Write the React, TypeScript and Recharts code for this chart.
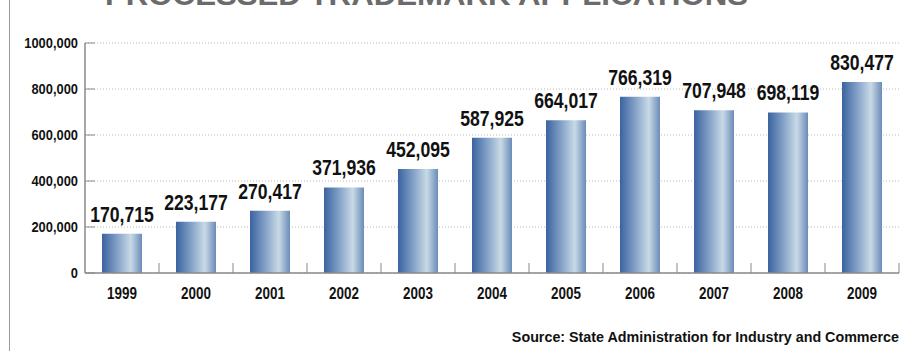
import { BarChart, Bar, XAxis, YAxis, CartesianGrid, LabelList } from "recharts";

const years = ["1999", "2000", "2001", "2002", "2003", "2004", "2005", "2006", "2007", "2008", "2009"];
const applications = [170715, 223177, 270417, 371936, 452095, 587925, 664017, 766319, 707948, 698119, 830477];
const yTicks = [0, 200000, 400000, 600000, 800000, 1000000];
const yTickLabels = ["0", "200,000", "400,000", "600,000", "800,000", "1000,000"];

const data = years.map((year, i) => ({ year, value: applications[i] }));

const W = 913;
const H = 351;
const MARGIN = { top: 43, right: 14, left: 0, bottom: 48 };
const Y_WIDTH = 85;
const BAND = (W - Y_WIDTH - MARGIN.right) / years.length;

const FONT = '"Liberation Sans", Arial, sans-serif';
const AXIS_GREY = "#8a8a8a";

const fmt = (v: number) => v.toLocaleString("en-US");

// no condensed face installed, so squeeze glyphs horizontally
function CondText({ x, y, sx, size, anchor, children }: any) {
  return (
    <text
      transform={`translate(${x},${y}) scale(${sx},1)`}
      textAnchor={anchor}
      fontFamily={FONT}
      fontSize={size}
      fontWeight={700}
      fill="#111"
    >
      {children}
    </text>
  );
}

function YTick(props: any) {
  const { x, y, payload } = props;
  const axisX = x + 7;
  const idx = yTicks.indexOf(payload.value);
  return (
    <g>
      <line x1={axisX} x2={axisX + 10} y1={y} y2={y} stroke={AXIS_GREY} strokeWidth={1} />
      <CondText x={x} y={y + 5} sx={0.86} size={15} anchor="end">
        {idx >= 0 ? yTickLabels[idx] : fmt(payload.value)}
      </CondText>
    </g>
  );
}

function XTick(props: any) {
  const { x, y, payload } = props;
  const axisY = y - 14;
  const bx = x + BAND / 2;
  return (
    <g>
      <line x1={bx} x2={bx} y1={axisY} y2={axisY - 10} stroke={AXIS_GREY} strokeWidth={1} />
      <CondText x={x} y={y + 12} sx={0.84} size={16} anchor="middle">
        {payload.value}
      </CondText>
    </g>
  );
}

function ValueLabel(props: any) {
  const { x, y, width, value } = props;
  return (
    <CondText x={x + width / 2} y={y - 12} sx={0.8} size={22} anchor="middle">
      {fmt(Number(value))}
    </CondText>
  );
}

export default function App() {
  return (
    <div style={{ position: "fixed", left: 0, top: 0, width: W, height: H, background: "#fff", overflow: "hidden" }}>
      <svg width={W} height={H} style={{ position: "absolute", left: 0, top: 0 }}>
        <text
          x={105}
          y={5}
          textLength={643}
          lengthAdjust="spacingAndGlyphs"
          fontFamily={FONT}
          fontWeight={700}
          fontSize={30}
          fill="#6b6b6b"
        >
          PROCESSED TRADEMARK APPLICATIONS
        </text>
        <text x={899} y={342} textAnchor="end" fontFamily={FONT} fontWeight={700} fontSize={14.3} fill="#111">
          Source: State Administration for Industry and Commerce
        </text>
      </svg>
      <div style={{ position: "absolute", left: 9, top: 0, width: 1, height: H, background: "#9a9a9a" }} />
      <div style={{ position: "absolute", left: 0, top: 0 }}>
        <BarChart width={W} height={H} data={data} margin={MARGIN}>
          <defs>
            <linearGradient id="barGrad" x1="0" y1="0" x2="1" y2="0">
              <stop offset="0%" stopColor="#3b63a0" />
              <stop offset="35%" stopColor="#7d9cc4" />
              <stop offset="72%" stopColor="#c9dae6" />
              <stop offset="100%" stopColor="#6a8cb8" />
            </linearGradient>
          </defs>
          <CartesianGrid vertical={false} stroke="#b8b8b8" strokeDasharray="1 2" />
          <XAxis
            dataKey="year"
            height={30}
            axisLine={{ stroke: AXIS_GREY, strokeWidth: 1.5 }}
            tickLine={false}
            tickSize={0}
            tickMargin={14}
            tick={<XTick />}
            interval={0}
          />
          <YAxis
            width={Y_WIDTH}
            domain={[0, 1000000]}
            ticks={yTicks}
            axisLine={{ stroke: AXIS_GREY, strokeWidth: 1.5 }}
            tickLine={false}
            tickSize={0}
            tickMargin={7}
            tick={<YTick />}
          />
          <Bar dataKey="value" fill="url(#barGrad)" barSize={40} isAnimationActive={false}>
            <LabelList dataKey="value" content={<ValueLabel />} />
          </Bar>
        </BarChart>
      </div>
    </div>
  );
}
